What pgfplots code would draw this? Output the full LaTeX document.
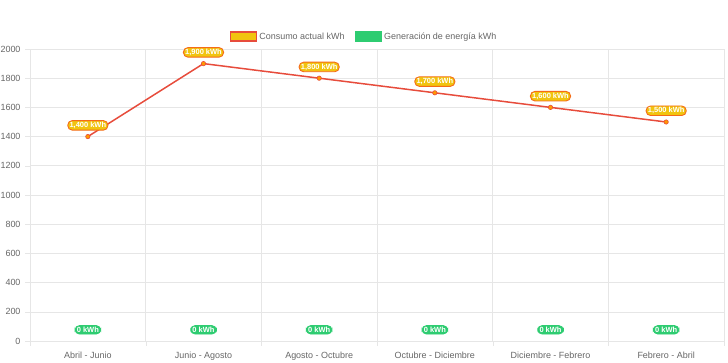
\documentclass[border=0pt]{standalone}
\usepackage{pgfplots}
\pgfplotsset{compat=1.18}
\usepackage{fontspec}
\setmainfont{Liberation Sans}
\definecolor{lred}{HTML}{E74C3C}
\definecolor{lyel}{HTML}{F1C40F}
\definecolor{lgreen}{HTML}{2ECC71}
\definecolor{gridc}{HTML}{E6E6E6}
\definecolor{txt}{HTML}{666666}
\begin{document}
\begin{tikzpicture}
\useasboundingbox (-30bp,-22bp) rectangle (698bp,341bp);
\begin{axis}[
  at={(0,0)}, anchor=south west,
  scale only axis, width=694bp, height=292bp,
  xmin=-0.5, xmax=5.5, ymin=0, ymax=2000,
  clip=false,
  xtick={0,1,2,3,4,5},
  xticklabels={Abril - Junio, Junio - Agosto, Agosto - Octubre, Octubre - Diciembre, Diciembre - Febrero, Febrero - Abril},
  minor xtick={-0.5,0.5,1.5,2.5,3.5,4.5,5.5},
  ytick={0,200,...,2000},
  major x tick style={draw=none},
  minor x tick style={draw=gridc},
  minor tick length=5bp,
  major tick length=5bp,
  tick align=outside, tick pos=left,
  y tick style={draw=gridc},
  ymajorgrids, xminorgrids,
  grid style={draw=gridc, line width=0.6pt},
  minor grid style={draw=gridc, line width=0.6pt},
  axis line style={draw=gridc, line width=0.6pt},
  ticklabel style={font=\fontsize{9}{10}\selectfont, text=txt},
  yticklabel style={xshift=-1bp},
  xticklabel style={yshift=-2bp},
  /pgf/number format/assume math mode=true,
  /pgf/number format/1000 sep={},
  legend style={at={(0.4813,1)}, anchor=south, yshift=4bp, draw=none, fill=none,
     font=\fontsize{9}{10}\selectfont, text=txt, legend columns=2,
     /tikz/every even column/.append style={column sep=8bp}},
  legend cell align=left,
]
\addplot[color=lred, line width=1.5pt,
  mark=*, mark size=2.2bp, mark options={fill=orange!80!yellow, draw=lred, line width=0.6pt},
  point meta=explicit symbolic,
  nodes near coords,
  every node near coord/.style={anchor=south, yshift=6bp, fill=lyel, draw=orange!60!lred, line width=0.9pt,
     rounded corners=4.5bp, inner xsep=1.8bp, inner ysep=1.5bp, text=white,
     font=\fontsize{7.5}{7.5}\selectfont\bfseries},
  legend image code/.code={\draw[fill=lyel, draw=lred, line width=1.6pt] (0bp,-4.5bp) rectangle (26bp,4.5bp);}
] coordinates {
 (0,1400) [1,400 kWh]
 (1,1900) [1,900 kWh]
 (2,1800) [1,800 kWh]
 (3,1700) [1,700 kWh]
 (4,1600) [1,600 kWh]
 (5,1500) [1,500 kWh]
};
\addlegendentry{Consumo actual kWh}
\addplot[draw=none, mark=none,
  point meta=explicit symbolic,
  nodes near coords,
  every node near coord/.style={anchor=south, yshift=6.5bp, fill=lgreen, draw=lgreen, line width=0.9pt,
     rounded corners=4.5bp, inner xsep=1.8bp, inner ysep=1.5bp, text=white,
     font=\fontsize{7.5}{7.5}\selectfont\bfseries},
  legend image code/.code={\draw[fill=lgreen, draw=lgreen, line width=1.6pt] (0bp,-4.5bp) rectangle (26bp,4.5bp);}
] coordinates {
 (0,0) [0 kWh]
 (1,0) [0 kWh]
 (2,0) [0 kWh]
 (3,0) [0 kWh]
 (4,0) [0 kWh]
 (5,0) [0 kWh]
};
\addlegendentry{Generación de energía kWh}
\end{axis}
\end{tikzpicture}
\end{document}
